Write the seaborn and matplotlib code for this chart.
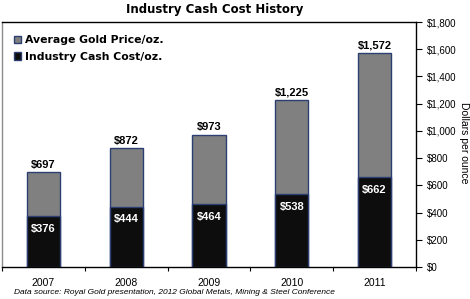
import pandas as pd
import seaborn as sns
import matplotlib.pyplot as plt
from matplotlib.patches import Patch

years = ['2007', '2008', '2009', '2010', '2011']
gold_price = [697, 872, 973, 1225, 1572]
cash_cost = [376, 444, 464, 538, 662]
yticks = [0, 200, 400, 600, 800, 1000, 1200, 1400, 1600, 1800]

df = pd.DataFrame({'year': years, 'gold': gold_price, 'cost': cash_cost})

sns.set_style('white')
plt.rcParams['font.family'] = ['Liberation Sans', 'DejaVu Sans']
plt.rcParams['text.color'] = 'black'
plt.rcParams['xtick.color'] = 'black'
plt.rcParams['ytick.color'] = 'black'
plt.rcParams['xtick.labelcolor'] = 'black'
plt.rcParams['ytick.labelcolor'] = 'black'

fig = plt.figure(figsize=(4.7, 2.99), dpi=100)
ax = fig.add_axes([2 / 470, 32 / 299, 414 / 470, 245 / 299])

edge = '#2b3f73'
sns.barplot(data=df, x='year', y='gold', color='#808080', width=0.4,
            edgecolor=edge, linewidth=1, saturation=1, ax=ax)
sns.barplot(data=df, x='year', y='cost', color='#0d0d0d', width=0.4,
            edgecolor=edge, linewidth=1, saturation=1, ax=ax)

for i, (g, c) in enumerate(zip(gold_price, cash_cost)):
    ax.text(i, g + 18, '${:,}'.format(g), ha='center', va='bottom',
            fontsize=8, fontweight='bold', color='black')
    ax.text(i, c - 95, '${:,}'.format(c), ha='center', va='center',
            fontsize=8, fontweight='bold', color='white')

ax.set_ylim(0, 1800)
ax.set_xlim(-0.5, 4.5)
ax.yaxis.tick_right()
ax.set_yticks(yticks)
ax.set_yticklabels(['${:,}'.format(v) for v in yticks], fontsize=7)
ax.tick_params(axis='y', direction='out', length=4, width=0.8, pad=4, right=True)
ax.set_xticks(range(5))
ax.set_xticklabels(years, fontsize=7.5)
ax.tick_params(axis='x', length=0, pad=8)
# tick marks between categories
ax.set_xticks([-0.5, 0.5, 1.5, 2.5, 3.5, 4.5], minor=True)
ax.tick_params(axis='x', which='minor', direction='out', length=3, width=0.8, bottom=True)
ax.set_xlabel('')
ax.set_ylabel('')

for s in ['top', 'right', 'bottom']:
    ax.spines[s].set_color('black')
    ax.spines[s].set_linewidth(1)
ax.spines['left'].set_color('#8c8c8c')
ax.spines['left'].set_linewidth(1)

handles = [Patch(facecolor='#808080', edgecolor=edge, label='Average Gold Price/oz.'),
           Patch(facecolor='#0d0d0d', edgecolor=edge, label='Industry Cash Cost/oz.')]
ax.legend(handles=handles, loc='upper left', bbox_to_anchor=(0.005, 0.985), frameon=False,
          prop={'family': 'DejaVu Sans', 'weight': 'bold', 'size': 7.8},
          handlelength=0.7, handleheight=0.7, handletextpad=0.3, labelspacing=0.6)

fig.text(464 / 470, 1 - 143 / 299, 'Dollars per ounce', rotation=-90,
         ha='center', va='center', fontsize=7.5)
fig.text(215 / 470, 1 - 9 / 299, 'Industry Cash Cost History', ha='center', va='center',
         fontsize=8.5, fontweight='bold', family='DejaVu Sans')
fig.text(14 / 470, 1 - 293 / 299,
         'Data source: Royal Gold presentation, 2012 Global Metals, Mining & Steel Conference',
         ha='left', va='center', fontsize=6, style='italic')

fig.savefig('out.png', dpi=100)
